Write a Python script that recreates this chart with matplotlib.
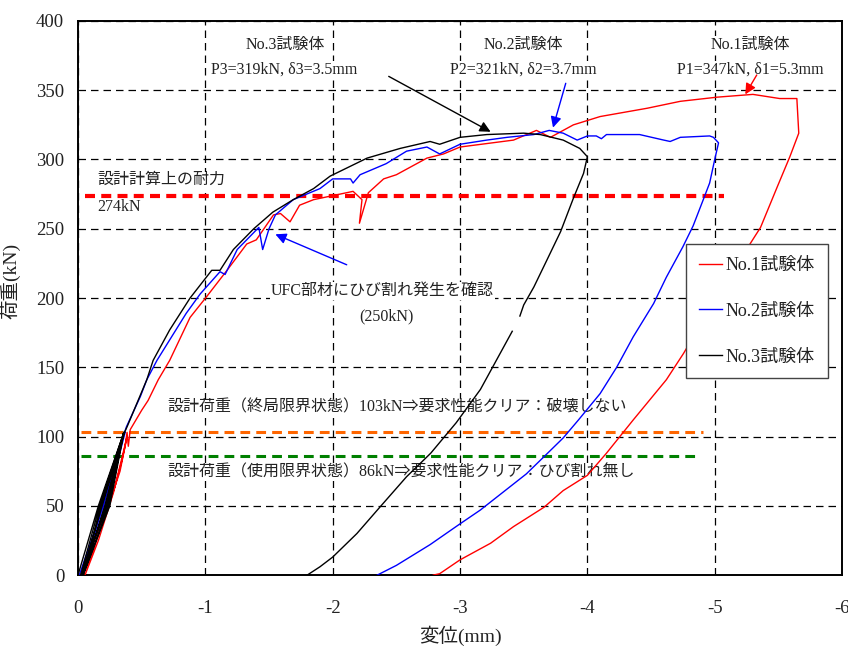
import numpy as np
import matplotlib
matplotlib.use("Agg")
import matplotlib.pyplot as plt

plt.rcParams['font.family'] = ['Liberation Serif', 'Noto Sans CJK JP']
plt.rcParams['axes.unicode_minus'] = False

# 荷重-変位 (No.1)
disp1 = [-0.02, -0.13, -0.24, -0.33, -0.385, -0.28, -0.16, -0.055, -0.17, -0.29,
         -0.34, -0.37, -0.385, -0.395, -0.41, -0.50, -0.55, -0.63, -0.72, -0.88,
         -1.01, -1.17, -1.325, -1.40, -1.535, -1.59, -1.665, -1.74, -1.85, -2.16,
         -2.23, -2.21, -2.28, -2.40, -2.50, -2.74, -2.87, -3.00, -3.42, -3.60,
         -3.71, -3.89, -4.10, -4.47, -4.73, -5.02, -5.30, -5.51, -5.645, -5.66,
         -5.59, -5.49, -5.36, -5.27, -5.01, -4.755, -4.62, -4.36, -4.15, -4.00,
         -3.81, -3.66, -3.42, -3.24, -3.00, -2.84, -2.79]
load1 = [0, 25, 50, 75, 100, 60, 25, 0, 32, 64,
         81, 93, 103, 93, 105, 119, 126, 141, 155, 186,
         201, 220, 239, 242, 260, 261, 255, 267, 271, 277,
         271, 254, 276, 286, 289, 301, 304, 309, 314, 321,
         316, 325, 331, 337, 342, 345, 347, 344, 344, 319,
         302, 280, 251, 238, 200, 160, 141, 112, 88, 72,
         61, 49, 35, 23, 11, 1, 0]

# 荷重-変位 (No.2)
disp2 = [-0.01, -0.20, -0.37, -0.25, -0.12, -0.03, -0.19, -0.30, -0.38, -0.49,
         -0.54, -0.62, -0.85, -0.96, -1.115, -1.155, -1.25, -1.42, -1.45, -1.50,
         -1.55, -1.69, -1.90, -2.00, -2.14, -2.16, -2.215, -2.42, -2.58, -2.74,
         -2.84, -3.00, -3.21, -3.37, -3.58, -3.70, -3.81, -3.92, -4.00, -4.07,
         -4.11, -4.15, -4.41, -4.60, -4.65, -4.73, -4.96, -4.99, -5.03, -5.00,
         -4.96, -4.91, -4.83, -4.75, -4.62, -4.52, -4.36, -4.23, -4.10, -3.93,
         -3.81, -3.71, -3.52, -3.34, -3.16, -3.00, -2.765, -2.50, -2.35]
load2 = [0, 50, 103, 60, 25, 0, 50, 85, 107, 129,
         141, 155, 189, 203, 219, 217, 235, 251, 235, 250,
         260, 271, 279, 286, 286, 283, 289, 297, 306, 309,
         304, 311, 314, 316, 318, 321, 319, 314, 317, 317,
         315, 318, 318, 314, 313, 316, 317, 316, 312, 300,
         283, 271, 252, 237, 215, 196, 172, 150, 131, 112,
         99, 90, 73, 60, 47, 37, 22, 7, 0]

# 荷重-変位 (No.3)
disp3 = [0.0, -0.16, -0.36, -0.25, -0.04, -0.21, -0.36, -0.22, -0.03, -0.19,
         -0.36, -0.23, -0.02, -0.17, -0.36, -0.24, -0.04, -0.18,
         -0.37, -0.385, -0.54, -0.59, -0.72, -0.88, -1.05, -1.115, -1.22, -1.38,
         -1.53, -1.69, -1.85, -1.98, -2.27, -2.53, -2.765, -2.84, -3.00, -3.21,
         -3.50, -3.63, -3.81, -3.94, -4.00, -3.97, -3.89, -3.79, -3.68, -3.58,
         -3.50, -3.47, np.nan, -3.41, -3.16, -2.97, -2.77, -2.58, -2.37, -2.19,
         -2.00, -1.90, -1.80]
load3 = [0, 50, 103, 50, 0, 50, 103, 50, 0, 50,
         103, 50, 0, 50, 103, 50, 0, 50,
         104, 107, 141, 155, 177, 200, 220, 220, 235, 250,
         262, 271, 279, 288, 301, 308, 313, 311, 316, 318,
         319, 318, 314, 308, 302, 290, 272, 248, 227, 208,
         195, 187, np.nan, 176, 134, 110, 88, 71, 49, 30,
         13, 6, 0]

labels = ['No.1試験体', 'No.2試験体', 'No.3試験体']
colors = ['#ff0000', '#0000ff', '#000000']

design_strength = 274
ultimate_load = 103
service_load = 86

xticks = [0, -1, -2, -3, -4, -5, -6]
xticklabels = ['0', '-1', '-2', '-3', '-4', '-5', '-6']
yticks = np.arange(0, 401, 50)

fig = plt.figure(figsize=(8.48, 6.55), dpi=100)
ax = fig.add_axes([0.092, 0.122, 0.901, 0.846])
ax.set_axisbelow(True)

ax.plot(disp1, load1, color=colors[0], lw=1.0, label=labels[0], zorder=3)
ax.plot(disp2, load2, color=colors[1], lw=1.0, label=labels[1], zorder=3)
ax.plot(disp3, load3, color=colors[2], lw=1.0, label=labels[2], zorder=3)

# 設計耐力・設計荷重
ax.plot([-0.055, -5.07], [design_strength] * 2, color='#ff0000', lw=3.0,
        ls=(0, (2.4, 1.5)), zorder=2.5)
ax.plot([-0.02, -4.91], [ultimate_load] * 2, color='#ff6600', lw=2.2,
        ls=(0, (3.2, 2.0)), zorder=2.5)
ax.plot([-0.02, -4.86], [service_load] * 2, color='#008000', lw=2.2,
        ls=(0, (3.2, 2.0)), zorder=2.5)

ax.set_xlim(0, -6)
ax.set_ylim(0, 400)
ax.set_xticks(xticks)
ax.set_xticklabels(xticklabels)
ax.set_yticks(yticks)
ax.tick_params(length=0, labelsize=13.5, colors='#222222')
ax.tick_params(axis='x', pad=18)
ax.tick_params(axis='y', pad=10)
ax.grid(True, color='black', lw=0.9, ls=(0, (6, 4)))
for s in ax.spines.values():
    s.set_linewidth(1.4)

ax.set_xlabel('変位(mm)', fontsize=14, color='#222222', labelpad=6)
ax.set_ylabel('荷重(kN)', fontsize=14, color='#222222', labelpad=8)
ax.yaxis.set_label_coords(-0.075, 0.53)

box = dict(facecolor='white', edgecolor='none', pad=0.5)
tk = dict(fontsize=11.5, color='#222222', bbox=box, zorder=1)

ax.text(-0.15, 285, '設計計算上の耐力', ha='left', va='center', **tk)
ax.text(-0.15, 266, '274kN', ha='left', va='center', **tk)

ax.text(-1.63, 383, 'No.3試験体', ha='center', va='center', **tk)
ax.text(-1.62, 365, 'P3=319kN, δ3=3.5mm', ha='center', va='center', **tk)
ax.text(-3.50, 383, 'No.2試験体', ha='center', va='center', **tk)
ax.text(-3.50, 365, 'P2=321kN, δ2=3.7mm', ha='center', va='center', **tk)
ax.text(-5.28, 383, 'No.1試験体', ha='center', va='center', **tk)
ax.text(-5.28, 365, 'P1=347kN, δ1=5.3mm', ha='center', va='center', **tk)

ax.text(-2.39, 205, 'UFC部材にひび割れ発生を確認', ha='center', va='center', **tk)
ax.text(-2.42, 187, '(250kN)', ha='center', va='center', **tk)

ax.text(-0.70, 121, '設計荷重（終局限界状態）103kN⇒要求性能クリア：破壊しない',
        ha='left', va='center', **tk)
ax.text(-0.70, 74, '設計荷重（使用限界状態）86kN⇒要求性能クリア：ひび割れ無し',
        ha='left', va='center', **tk)

# 最大荷重・ひび割れ発生位置の矢印
def arrow(tip, tail, c):
    ax.annotate('', xy=tip, xytext=tail, zorder=4,
                arrowprops=dict(arrowstyle='-|>', color=c, lw=1.0,
                                mutation_scale=16, shrinkA=0, shrinkB=0))

arrow((-3.24, 320), (-2.44, 360), 'black')
arrow((-3.73, 323), (-3.83, 355), '#0000ff')
arrow((-5.24, 347), (-5.33, 361), '#ff0000')
arrow((-1.55, 246), (-2.11, 224), '#0000ff')

leg = ax.legend(loc='upper left', bbox_to_anchor=(0.796, 0.597), borderaxespad=0,
                fontsize=13, fancybox=False, framealpha=1, edgecolor='#444444',
                handlelength=1.3, handletextpad=0.2, labelspacing=1.6,
                borderpad=0.7)
leg.get_frame().set_linewidth(1.0)
for t in leg.get_texts():
    t.set_color('#222222')

fig.savefig('out.png', dpi=100)
